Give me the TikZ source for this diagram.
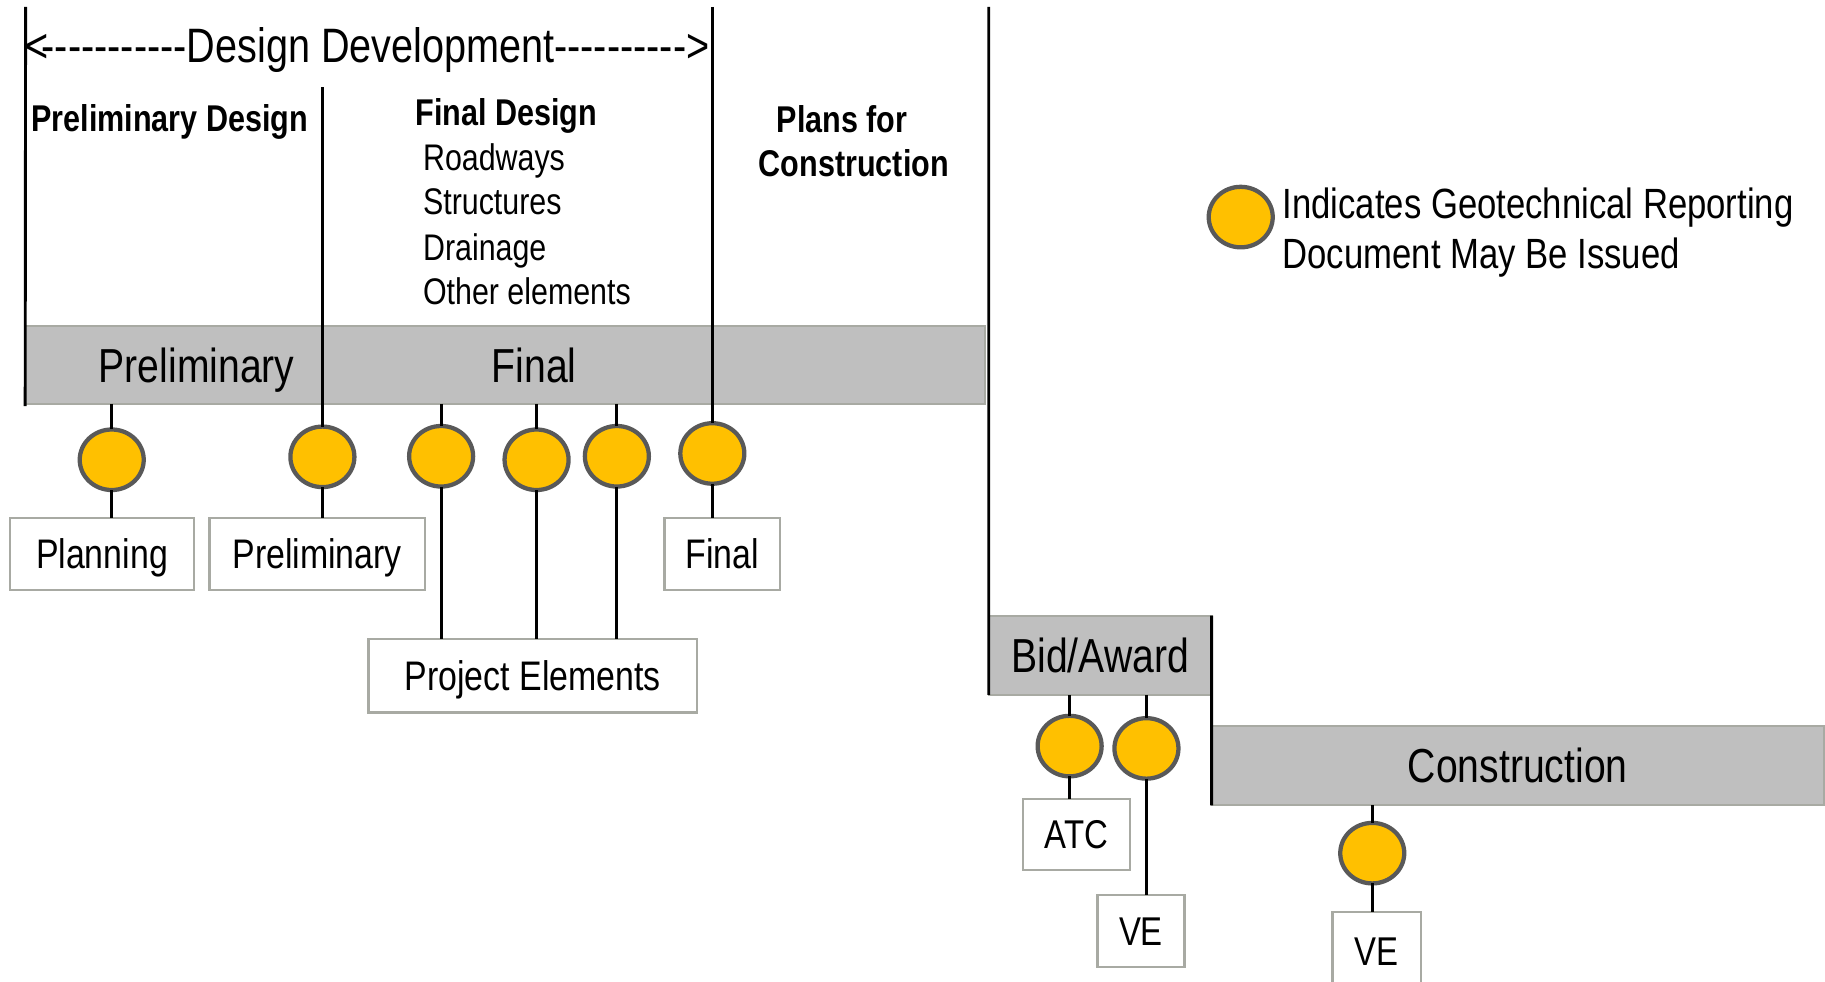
\documentclass[tikz,border=0pt]{standalone}
\usepackage{fontspec}
\setmainfont[FakeStretch=0.82]{Liberation Sans}
\usetikzlibrary{shapes.geometric}
\definecolor{gold}{HTML}{FFC000}
\definecolor{ringgray}{HTML}{595959}
\definecolor{barfill}{HTML}{BFBFBF}
\definecolor{barline}{HTML}{A8AAA3}
\definecolor{boxline}{HTML}{A8AAA3}
\begin{document}
\begin{tikzpicture}[x=0.6pt,y=-0.6pt,
  every node/.style={inner sep=0pt, outer sep=0pt},
  bar/.style={fill=barfill, draw=barline, line width=1pt},
  lbox/.style={draw=boxline, line width=1.3pt, fill=white, text height=15.25pt, text depth=0pt, font=\fontsize{21.3pt}{25pt}\selectfont},
  sbox/.style={lbox, text height=14.8pt, font=\fontsize{20.7pt}{25pt}\selectfont},
  dot/.style={ellipse, fill=gold, draw=ringgray, line width=2.2pt, minimum width=33pt, minimum height=31.2pt},
  vline/.style={line width=1.5pt, black},
  bigtxt/.style={font=\fontsize{24.9pt}{30pt}\selectfont},
  bartxt/.style={font=\fontsize{24.6pt}{30pt}\selectfont},
  headtxt/.style={font=\fontsize{19.2pt}{23pt}\selectfont\bfseries},
  listtxt/.style={font=\fontsize{19.1pt}{23pt}\selectfont},
  legtxt/.style={font=\fontsize{21.8pt}{26pt}\selectfont}
]
\path[use as bounding box] (0,0) rectangle (1568,843);

% bars
\node[bar, minimum width=494.6pt, minimum height=40.2pt] (bar1) at (433.8,313.5) {};
\node[bar, minimum width=114.9pt, minimum height=40.8pt, text height=17.6pt, text depth=0pt, bartxt] (bid) at (945.25,563) {Bid/Award};
\node[bar, minimum width=315.6pt, minimum height=40.8pt, text height=17.6pt, text depth=0pt, bartxt] (cons) at (1304,658) {Construction};

% bar labels
\node[bartxt, anchor=base] (lprel) at (169,329) {Preliminary};
\node[bartxt, anchor=base] (lfin) at (459,329) {Final};

% top texts
\node[bigtxt, anchor=base west] (dd) at (22,54) {<\hspace{-3.6pt}-{}-{}-{}-{}-{}-{}-{}-{}-{}-{}-Design Development-{}-{}-{}-{}-{}-{}-{}-{}-{}->};
\node[headtxt, anchor=base west] (hpd) at (27,113) {Preliminary Design};
\node[headtxt, anchor=base west] (hfd) at (357,108) {Final Design};
\node[listtxt, anchor=base west] (l1) at (363.5,146.6) {Roadways};
\node[listtxt, anchor=base west] (l2) at (363.5,184.7) {Structures};
\node[listtxt, anchor=base west] (l3) at (363.5,223.4) {Drainage};
\node[listtxt, anchor=base west] (l4) at (363.5,261.5) {Other elements};
\node[headtxt, anchor=base west] (hpc1) at (667.4,114) {Plans for};
\node[headtxt, anchor=base west] (hpc2) at (652,152) {Construction};

% coordinates for free line ends
\coordinate (t1) at (22,6);
\coordinate (t2) at (277,75);
\coordinate (t3) at (612,6);
\coordinate (t4) at (849.5,6);

% circles
\node[dot] (c1) at (96,395) {};
\node[dot] (c2) at (277,392.5) {};
\node[dot] (c3) at (379,392) {};
\node[dot] (c4) at (461,395) {};
\node[dot] (c5) at (530,392) {};
\node[dot] (c6) at (612,389.6) {};
\node[dot] (ca) at (919,641) {};
\node[dot] (cb) at (985,643) {};
\node[dot] (cc) at (1179,733) {};
\node[dot] (cl) at (1066,186.5) {};

% boxes
\node[lbox, minimum width=94.7pt, minimum height=37.2pt] (plan) at (87.6,476) {Planning};
\node[lbox, minimum width=111pt, minimum height=37.2pt] (prel) at (272.5,476) {Preliminary};
\node[lbox, minimum width=59.4pt, minimum height=37.2pt] (fin) at (620.5,476) {Final};
\node[lbox, minimum width=169.5pt, minimum height=37.8pt] (proj) at (457.75,580.5) {Project Elements};
\node[sbox, minimum width=55.2pt, minimum height=36.6pt] (atc) at (925,717) {ATC};
\node[sbox, minimum width=44.8pt, minimum height=37.2pt] (ve1) at (980.3,800) {VE};
\node[sbox, minimum width=45.6pt, minimum height=40pt] (ve2) at (1183,817) {VE};

% legend
\node[legtxt, anchor=base west] (leg1) at (1102,187.6) {Indicates Geotechnical Reporting};
\node[legtxt, anchor=base west] (leg2) at (1102,230.6) {Document May Be Issued};

% long vertical lines
\draw[vline] (t1) -- ([yshift=-1.2pt]bar1.south west);
\draw[vline] (t2) -- (c2.north);
\draw[vline] (t3) -- (c6.north);
\draw[vline] (t4) -- (bid.south west);
\draw[vline] (bid.north east) -- (cons.south west);

% stems
\draw[vline] (c1 |- bar1.south) -- (c1.north);
\draw[vline] (c1.south) -- (plan.north -| c1.south);
\draw[vline] (c2.south) -- (prel.north -| c2.south);
\draw[vline] (c3 |- bar1.south) -- (c3.north);
\draw[vline] (c3.south) -- (proj.north -| c3.south);
\draw[vline] (c4 |- bar1.south) -- (c4.north);
\draw[vline] (c4.south) -- (proj.north -| c4.south);
\draw[vline] (c5 |- bar1.south) -- (c5.north);
\draw[vline] (c5.south) -- (proj.north -| c5.south);
\draw[vline] (c6.south) -- (fin.north -| c6.south);
\draw[vline] (ca |- bid.south) -- (ca.north);
\draw[vline] (ca.south) -- (atc.north -| ca.south);
\draw[vline] (cb |- bid.south) -- (cb.north);
\draw[vline] (cb.south) -- (ve1.north -| cb.south);
\draw[vline] (cc |- cons.south) -- (cc.north);
\draw[vline] (cc.south) -- (ve2.north -| cc.south);
\end{tikzpicture}
\end{document}
